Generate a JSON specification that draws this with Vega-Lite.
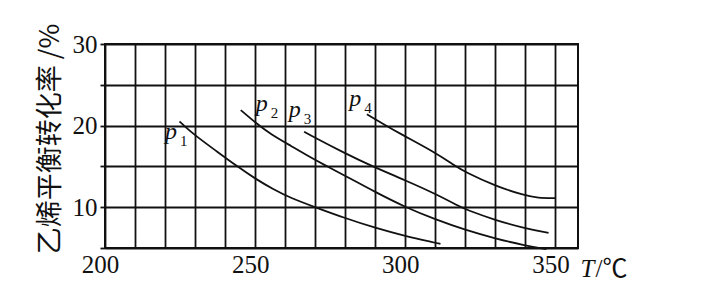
{
  "$schema": "https://vega.github.io/schema/vega-lite/v6.json",
  "width": 473,
  "height": 204,
  "autosize": {"type": "none"},
  "padding": {"left": 105, "top": 44, "right": 139, "bottom": 56},
  "background": "white",
  "config": {"view": {"stroke": "#111", "strokeWidth": 2}, "font": "Liberation Serif"},
  "datasets": {
    "curves": [
      {"series": "p1", "T": 224.8, "rate": 20.5},
      {"series": "p1", "T": 226.3, "rate": 20.0},
      {"series": "p1", "T": 230, "rate": 18.8},
      {"series": "p1", "T": 237, "rate": 16.9},
      {"series": "p1", "T": 244, "rate": 15.0},
      {"series": "p1", "T": 250, "rate": 13.5},
      {"series": "p1", "T": 256, "rate": 12.2},
      {"series": "p1", "T": 262, "rate": 11.1},
      {"series": "p1", "T": 270, "rate": 10.0},
      {"series": "p1", "T": 280, "rate": 8.65},
      {"series": "p1", "T": 290, "rate": 7.45},
      {"series": "p1", "T": 300, "rate": 6.45},
      {"series": "p1", "T": 310, "rate": 5.65},
      {"series": "p1", "T": 311.7, "rate": 5.5},
      {"series": "p2", "T": 245.2, "rate": 21.9},
      {"series": "p2", "T": 250.6, "rate": 20.2},
      {"series": "p2", "T": 255, "rate": 19.0},
      {"series": "p2", "T": 262, "rate": 17.5},
      {"series": "p2", "T": 268, "rate": 16.2},
      {"series": "p2", "T": 274, "rate": 15.0},
      {"series": "p2", "T": 280, "rate": 13.85},
      {"series": "p2", "T": 290, "rate": 11.85},
      {"series": "p2", "T": 300, "rate": 10.0},
      {"series": "p2", "T": 310, "rate": 8.5},
      {"series": "p2", "T": 320, "rate": 7.2},
      {"series": "p2", "T": 330, "rate": 6.15},
      {"series": "p2", "T": 340, "rate": 5.3},
      {"series": "p2", "T": 347, "rate": 4.85},
      {"series": "p3", "T": 266.3, "rate": 19.25},
      {"series": "p3", "T": 270, "rate": 18.5},
      {"series": "p3", "T": 279.4, "rate": 16.7},
      {"series": "p3", "T": 289, "rate": 15.0},
      {"series": "p3", "T": 300, "rate": 13.3},
      {"series": "p3", "T": 310, "rate": 11.65},
      {"series": "p3", "T": 318.5, "rate": 10.0},
      {"series": "p3", "T": 320, "rate": 9.75},
      {"series": "p3", "T": 330, "rate": 8.4},
      {"series": "p3", "T": 340, "rate": 7.4},
      {"series": "p3", "T": 347.7, "rate": 6.85},
      {"series": "p4", "T": 287.2, "rate": 21.4},
      {"series": "p4", "T": 292.2, "rate": 20.3},
      {"series": "p4", "T": 298.3, "rate": 19.0},
      {"series": "p4", "T": 310, "rate": 16.7},
      {"series": "p4", "T": 316, "rate": 15.2},
      {"series": "p4", "T": 320, "rate": 14.3},
      {"series": "p4", "T": 330, "rate": 12.6},
      {"series": "p4", "T": 340, "rate": 11.4},
      {"series": "p4", "T": 344, "rate": 11.15},
      {"series": "p4", "T": 350, "rate": 11.1}
    ],
    "labels": [
      {"series": "p1", "T": 220, "rate": 18.3, "sub": "1"},
      {"series": "p2", "T": 250.2, "rate": 21.8, "sub": "2"},
      {"series": "p3", "T": 261.2, "rate": 21.05, "sub": "3"},
      {"series": "p4", "T": 281.3, "rate": 22.4, "sub": "4"}
    ]
  },
  "resolve": {"axis": {"x": "independent"}},
  "layer": [
    {
      "data": {"name": "curves"},
      "mark": {"type": "line", "color": "#111", "strokeWidth": 1.8, "interpolate": "basis"},
      "encoding": {
        "x": {
          "field": "T", "type": "quantitative",
          "scale": {"domain": [200, 357.5], "nice": false, "zero": false},
          "axis": {
            "orient": "bottom",
            "values": [200, 210, 220, 230, 240, 250, 260, 270, 280, 290, 300, 310, 320, 330, 340, 350],
            "grid": true, "gridColor": "#111", "gridWidth": 1.8, "gridOpacity": 1,
            "domain": false, "ticks": false,
            "labelExpr": "datum.value % 50 === 0 ? datum.label : ''",
            "labelFont": "Liberation Serif", "labelFontSize": 25, "labelColor": "#111",
            "labelPadding": 4, "labelOffset": -5, "labelFlush": false, "labelOverlap": false,
            "title": "T", "titleFont": "Liberation Serif", "titleFontSize": 25,
            "titleFontWeight": "normal", "titleFontStyle": "italic", "titleColor": "#111",
            "titleX": 475, "titleY": 20, "titleAlign": "left", "titleBaseline": "middle", "titleAngle": 0
          }
        },
        "y": {
          "field": "rate", "type": "quantitative",
          "scale": {"domain": [5, 30], "nice": false, "zero": false},
          "axis": {
            "values": [5, 10, 15, 20, 25, 30],
            "grid": true, "gridColor": "#111", "gridWidth": 1.8, "gridOpacity": 1,
            "domain": false, "ticks": true, "tickSize": 5, "tickColor": "#111", "tickWidth": 1.8,
            "labelExpr": "datum.value % 10 === 0 ? datum.label : ''",
            "labelFont": "Liberation Serif", "labelFontSize": 25, "labelColor": "#111",
            "labelPadding": 3, "labelOverlap": false, "labelFlush": false,
            "title": "乙烯平衡转化率 /%", "titleFont": "Noto Sans CJK SC", "titleFontSize": 27,
            "titleFontWeight": "normal", "titleColor": "#111", "titleAngle": -90,
            "titleX": -55, "titleY": 94.5, "titleAlign": "center", "titleBaseline": "middle"
          }
        },
        "detail": {"field": "series"}
      }
    },
    {
      "data": {"name": "labels"},
      "mark": {"type": "text", "text": "p", "font": "Liberation Serif", "fontStyle": "italic", "fontSize": 24, "align": "left", "baseline": "alphabetic", "color": "#111"},
      "encoding": {
        "x": {
          "field": "T", "type": "quantitative",
          "axis": {
            "orient": "bottom", "values": [], "grid": false, "domain": false, "ticks": false, "labels": false,
            "title": "/℃", "titleFont": "Liberation Serif, Noto Sans CJK SC", "titleFontSize": 25,
            "titleFontWeight": "normal", "titleColor": "#111",
            "titleX": 490, "titleY": 20, "titleAlign": "left", "titleBaseline": "middle", "titleAngle": 0
          }
        },
        "y": {"field": "rate", "type": "quantitative"}
      }
    },
    {
      "data": {"name": "labels"},
      "mark": {"type": "text", "font": "Liberation Serif", "fontSize": 15, "dx": 15, "dy": 7, "align": "left", "baseline": "alphabetic", "color": "#111"},
      "encoding": {
        "x": {"field": "T", "type": "quantitative", "axis": null},
        "y": {"field": "rate", "type": "quantitative"},
        "text": {"field": "sub"}
      }
    }
  ]
}
